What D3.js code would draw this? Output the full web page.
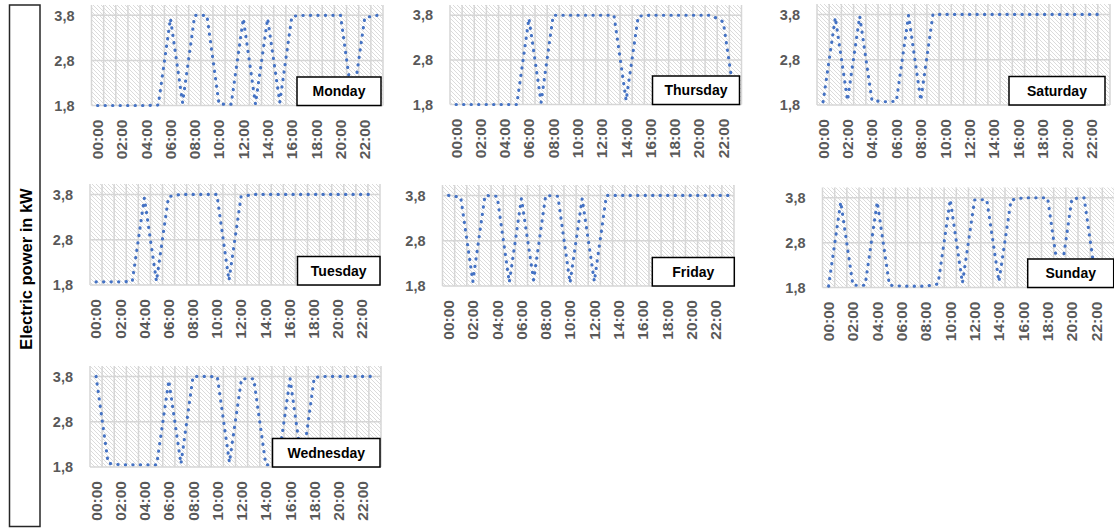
<!DOCTYPE html>
<html><head><meta charset="utf-8">
<script src="https://cdn.jsdelivr.net/npm/d3@7"></script>
<style>
html,body{margin:0;padding:0;background:#fff;}
svg{display:block;}
text{font-family:"Liberation Sans", Arial, sans-serif;}
</style></head><body>
<svg id="chart" width="1114" height="530"></svg>
<script>
const hours = ["00:00","01:00","02:00","03:00","04:00","05:00","06:00","07:00","08:00","09:00","10:00","11:00",
               "12:00","13:00","14:00","15:00","16:00","17:00","18:00","19:00","20:00","21:00","22:00","23:00"];
const tickLabels = ["00:00","02:00","04:00","06:00","08:00","10:00","12:00","14:00","16:00","18:00","20:00","22:00"];
const yTicks = [1.8, 2.8, 3.8];
const days = ["Monday","Thursday","Saturday","Tuesday","Friday","Sunday","Wednesday"];
const yTitle = "Electric power in kW";

const monday    = [1.8,1.8,1.8,1.8,1.8,1.81,3.73,1.86,3.8,3.8,1.83,1.83,3.73,1.83,3.73,1.87,3.78,3.8,3.8,3.8,3.8,1.85,3.75,3.8];
const thursday  = [1.8,1.8,1.8,1.8,1.8,1.8,3.73,1.85,3.8,3.8,3.8,3.8,3.8,3.8,1.89,3.78,3.8,3.8,3.8,3.8,3.8,3.8,3.65,1.8];
const saturday  = [1.87,3.73,1.9,3.76,1.9,1.87,1.88,3.78,1.9,3.8,3.8,3.8,3.8,3.8,3.8,3.8,3.8,3.8,3.8,3.8,3.8,3.8,3.8,3.8];
const tuesday   = [1.87,1.87,1.87,1.88,3.72,1.88,3.75,3.8,3.8,3.8,3.8,1.9,3.75,3.8,3.8,3.8,3.8,3.8,3.8,3.8,3.8,3.8,3.8,3.8];
const friday    = [3.8,3.76,1.9,3.8,3.78,1.88,3.73,1.93,3.8,3.78,1.87,3.73,1.9,3.8,3.8,3.8,3.8,3.8,3.8,3.8,3.8,3.8,3.8,3.8];
const sunday    = [1.83,3.71,1.85,1.85,3.71,1.85,1.83,1.83,1.83,1.88,3.76,1.9,3.75,3.76,1.93,3.75,3.8,3.8,3.8,1.9,3.78,3.8,1.9,1.9];
const wednesday = [3.8,1.88,1.85,1.85,1.85,1.85,3.71,1.87,3.8,3.8,3.79,1.9,3.75,3.75,1.85,1.85,3.75,1.83,3.78,3.8,3.8,3.8,3.8,3.8];

const seriesByDay = {Monday: monday, Thursday: thursday, Saturday: saturday, Tuesday: tuesday,
                     Friday: friday, Sunday: sunday, Wednesday: wednesday};

// layout (pixels) — separate from the data
const layout = {
  Monday:    {x0: 91.5,  x1: 383,   y0: 5,     y1: 105.5, boxR: 381,    boxW: 84},
  Thursday:  {x0: 450,   x1: 741.5, y0: 5,     y1: 104.5, boxR: 739.5,  boxW: 87},
  Saturday:  {x0: 817,   x1: 1110,  y0: 4,     y1: 105,   boxR: 1105,   boxW: 96},
  Tuesday:   {x0: 90,    x1: 380,   y0: 184,   y1: 285,   boxR: 380,    boxW: 82.5},
  Friday:    {x0: 442.5, x1: 734,   y0: 185,   y1: 286,   boxR: 734.3,  boxW: 82},
  Sunday:    {x0: 822.5, x1: 1114.5,y0: 187.5, y1: 287.5, boxR: 1113.7, boxW: 86},
  Wednesday: {x0: 90,    x1: 381,   y0: 366,   y1: 467,   boxR: 380,    boxW: 107.5}
};

const svg = d3.select("#chart");
const defs = svg.append("defs");
const pat = defs.append("pattern").attr("id","hatch").attr("patternUnits","userSpaceOnUse")
  .attr("width",4).attr("height",4);
pat.append("rect").attr("width",4).attr("height",4).attr("fill","#ffffff");
pat.append("path").attr("d","M-1,-1 L5,5 M3,-1 L5,1 M-1,3 L1,5")
  .attr("stroke","#d4d4d4").attr("stroke-width",0.85);

// left title box
svg.append("rect").attr("x",9.5).attr("y",5).attr("width",30.5).attr("height",521.5)
  .attr("fill","#fff").attr("stroke","#262626").attr("stroke-width",1.5);
svg.append("text").attr("transform","translate(32.3,269) rotate(-90)")
  .attr("text-anchor","middle").attr("font-size","16.5px").attr("font-weight","bold")
  .attr("fill","#000").text(yTitle);

const fmt = d => d3.format(".1f")(d).replace(".", ",");

days.forEach(day => {
  const L = layout[day];
  const values = seriesByDay[day];
  const x = d3.scaleBand().domain(hours).range([L.x0, L.x1]).padding(0);
  const y = d3.scaleLinear().domain([1.8, 4.03]).range([L.y1, L.y0]);
  const g = svg.append("g");

  // hatched plot area
  g.append("rect").attr("x",L.x0).attr("y",L.y0).attr("width",L.x1-L.x0).attr("height",L.y1-L.y0)
    .attr("fill","url(#hatch)");

  // vertical gridlines at category boundaries
  const edges = hours.map(h => x(h)).concat([x(hours[hours.length-1]) + x.bandwidth()]);
  g.selectAll("line.vg").data(edges).join("line").attr("class","vg")
    .attr("x1",d=>d).attr("x2",d=>d).attr("y1",L.y0).attr("y2",L.y1)
    .attr("stroke","#d6d6d6").attr("stroke-width",1.5);
  // horizontal gridlines
  g.selectAll("line.hg").data(yTicks).join("line").attr("class","hg")
    .attr("x1",L.x0).attr("x2",L.x1).attr("y1",d=>y(d)).attr("y2",d=>y(d))
    .attr("stroke","#d6d6d6").attr("stroke-width",1.5);

  // y axis
  const ya = g.append("g").attr("transform",`translate(${L.x0},0)`)
    .call(d3.axisLeft(y).tickValues(yTicks).tickFormat(fmt).tickSize(0).tickPadding(17));
  ya.select(".domain").remove();
  ya.selectAll("text").attr("font-size","14.5px").attr("font-weight","bold").attr("fill","#595959")
    .attr("font-family","'Liberation Sans', Arial, sans-serif");

  // x axis
  const xa = g.append("g").attr("transform",`translate(0,${L.y1})`)
    .call(d3.axisBottom(x).tickValues(tickLabels).tickSize(0));
  xa.select(".domain").remove();
  xa.selectAll("text").attr("transform","rotate(-90)").attr("text-anchor","end")
    .attr("x",-14).attr("y",0).attr("dy","0.35em")
    .attr("font-size","15.5px").attr("font-weight","bold").attr("fill","#595959")
    .attr("font-family","'Liberation Sans', Arial, sans-serif");

  // dotted series line
  const line = d3.line().x((d,i) => x(hours[i]) + x.bandwidth()/2).y(d => y(d));
  g.append("path").datum(values).attr("d",line).attr("fill","none")
    .attr("stroke","#4472C4").attr("stroke-width",3.1)
    .attr("stroke-linecap","round").attr("stroke-linejoin","round")
    .attr("stroke-dasharray","0.3 7.2");

  // day label box
  const bh = 28.5;
  g.append("rect").attr("x",L.boxR - L.boxW).attr("y",L.y1 - bh).attr("width",L.boxW).attr("height",bh)
    .attr("fill","#fff").attr("stroke","#000").attr("stroke-width",1.5);
  g.append("text").attr("x",L.boxR - L.boxW/2).attr("y",L.y1 - bh/2).attr("dy","0.35em")
    .attr("text-anchor","middle").attr("font-size","14px").attr("font-weight","bold")
    .attr("fill","#000").text(day);
});
</script>
</body></html>
